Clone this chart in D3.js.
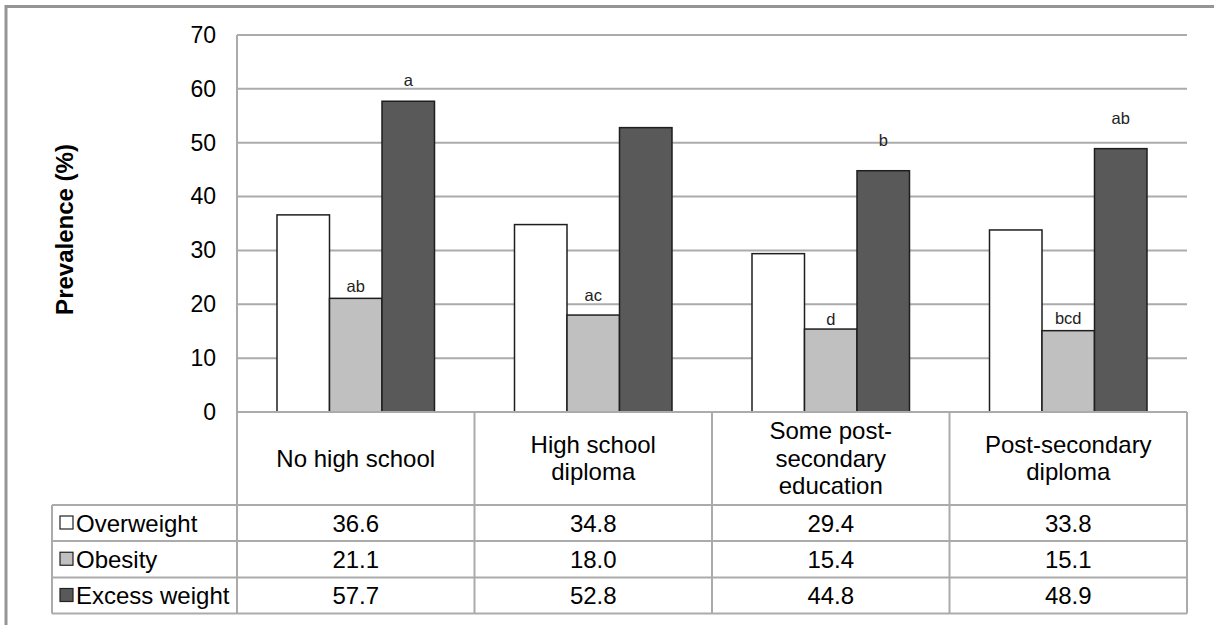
<!DOCTYPE html>
<html>
<head>
<meta charset="utf-8">
<script src="https://cdn.jsdelivr.net/npm/d3@7"></script>
<style>
  html, body { margin: 0; padding: 0; background: #fff; }
  svg { display: block; font-family: "Liberation Sans", Arial, sans-serif; }
</style>
</head>
<body>
<svg id="chart" width="1214" height="625"></svg>
<script>
// Education level categories (header lines in the data table)
const categories = ["No high school", "High school diploma", "Some post-secondary education", "Post-secondary diploma"];
const categoryLines = [["No high school"], ["High school", "diploma"], ["Some post-", "secondary", "education"], ["Post-secondary", "diploma"]];

const seriesNames = ["Overweight", "Obesity", "Excess weight"];
const overweight = [36.6, 34.8, 29.4, 33.8];
const obesity = [21.1, 18.0, 15.4, 15.1];
const excessWeight = [57.7, 52.8, 44.8, 48.9];

// Significance letters above the bars
const obesityLetters = ["ab", "ac", "d", "bcd"];
const excessLetters = ["a", "", "b", "ab"];

const yTicks = [0, 10, 20, 30, 40, 50, 60, 70];

const seriesValues = [overweight, obesity, excessWeight];
const seriesFill = ["#ffffff", "#c0c0c0", "#595959"];

const svg = d3.select("#chart");
const gridColor = "#ababab";

// Frame around the whole figure
svg.append("rect")
  .attr("x", 6).attr("y", 6.5)
  .attr("width", 1240).attr("height", 660)
  .attr("fill", "none").attr("stroke", "#959595").attr("stroke-width", 3);

const plotLeft = 237, plotRight = 1187, plotTop = 35, plotBottom = 412;

const x = d3.scaleBand().domain(categories).range([plotLeft, plotRight]).padding(0);
const xSeries = d3.scaleBand().domain(seriesNames).range([0, x.bandwidth()])
  .paddingInner(0).paddingOuter(0.762);
const y = d3.scaleLinear().domain([0, 70]).range([plotBottom, plotTop]);

// Horizontal gridlines
svg.append("g").selectAll("line").data(yTicks.filter(t => t > 0)).join("line")
  .attr("x1", plotLeft).attr("x2", plotRight)
  .attr("y1", d => y(d)).attr("y2", d => y(d))
  .attr("stroke", gridColor).attr("stroke-width", 2);

// Y axis with labels only
const yAxis = d3.axisLeft(y).tickValues(yTicks).tickSize(0).tickPadding(21).tickFormat(d3.format("d"));
const yg = svg.append("g").attr("transform", `translate(${plotLeft},0)`).call(yAxis);
yg.select(".domain").remove();
yg.selectAll("text").attr("font-size", 23).attr("fill", "#000")
  .attr("font-family", "'Liberation Sans', Arial, sans-serif");

// Bars
const groups = svg.append("g").selectAll("g").data(categories).join("g")
  .attr("transform", d => `translate(${x(d)},0)`);

groups.selectAll("rect")
  .data((c, i) => seriesNames.map((s, k) => ({ s, k, v: seriesValues[k][i] })))
  .join("rect")
  .attr("x", d => xSeries(d.s))
  .attr("y", d => y(d.v))
  .attr("width", xSeries.bandwidth())
  .attr("height", d => y(0) - y(d.v))
  .attr("fill", d => seriesFill[d.k])
  .attr("stroke", "#1e1e1e").attr("stroke-width", 1.5);

// Letters above the obesity and excess-weight bars (pixel lift above bar top)
const obesityLift = [6, 14, 4, 7];
const excessLift = [15, 0, 25, 25];
groups.append("text")
  .attr("x", xSeries("Obesity") + xSeries.bandwidth() / 2)
  .attr("y", (c, i) => y(obesity[i]) - obesityLift[i])
  .attr("text-anchor", "middle").attr("font-size", 16.5).attr("fill", "#222")
  .text((c, i) => obesityLetters[i]);
groups.append("text")
  .attr("x", xSeries("Excess weight") + xSeries.bandwidth() / 2)
  .attr("y", (c, i) => y(excessWeight[i]) - excessLift[i])
  .attr("text-anchor", "middle").attr("font-size", 16.5).attr("fill", "#222")
  .text((c, i) => excessLetters[i]);

// Data table below the plot
const headerBottom = 505;
const rowH = [505, 541, 577.5, 613.5];
const legendLeft = 52;
const tg = svg.append("g");

// vertical axis line continued down through the table
tg.append("line").attr("x1", plotLeft).attr("x2", plotLeft)
  .attr("y1", plotTop).attr("y2", rowH[3]).attr("stroke", gridColor).attr("stroke-width", 2);
// column separators
tg.selectAll("line.col").data(categories).join("line").attr("class", "col")
  .attr("x1", d => x(d) + x.bandwidth()).attr("x2", d => x(d) + x.bandwidth())
  .attr("y1", plotBottom).attr("y2", rowH[3])
  .attr("stroke", gridColor).attr("stroke-width", 2);
// baseline / top of header
tg.append("line").attr("x1", plotLeft).attr("x2", plotRight)
  .attr("y1", plotBottom).attr("y2", plotBottom).attr("stroke", gridColor).attr("stroke-width", 2);
// row lines
tg.selectAll("line.row").data(rowH).join("line").attr("class", "row")
  .attr("x1", legendLeft).attr("x2", plotRight)
  .attr("y1", d => d).attr("y2", d => d)
  .attr("stroke", gridColor).attr("stroke-width", 2);
tg.append("line").attr("x1", legendLeft).attr("x2", legendLeft)
  .attr("y1", rowH[0]).attr("y2", rowH[3]).attr("stroke", gridColor).attr("stroke-width", 2);

// header labels
const headerMid = (plotBottom + headerBottom) / 2;
const lineGap = 27.5;
categories.forEach((c, i) => {
  const lines = categoryLines[i];
  lines.forEach((t, j) => {
    tg.append("text")
      .attr("x", x(c) + x.bandwidth() / 2)
      .attr("y", headerMid + 8 + (j - (lines.length - 1) / 2) * lineGap)
      .attr("text-anchor", "middle").attr("font-size", 24).attr("fill", "#000")
      .text(t);
  });
});

// value rows with legend keys
seriesNames.forEach((s, k) => {
  const mid = (rowH[k] + rowH[k + 1]) / 2;
  tg.append("rect").attr("x", 60).attr("y", mid - 7).attr("width", 13).attr("height", 13)
    .attr("fill", seriesFill[k]).attr("stroke", "#222").attr("stroke-width", 1.2);
  tg.append("text").attr("x", 76).attr("y", mid + 8.5)
    .attr("font-size", 24).attr("fill", "#000").text(s);
  categories.forEach((c, i) => {
    tg.append("text")
      .attr("x", x(c) + x.bandwidth() / 2).attr("y", mid + 8.5)
      .attr("text-anchor", "middle").attr("font-size", 24).attr("fill", "#000")
      .text(d3.format(".1f")(seriesValues[k][i]));
  });
});

// Y-axis title
svg.append("text")
  .attr("transform", `translate(73,${(plotTop + plotBottom) / 2 + 6}) rotate(-90)`)
  .attr("text-anchor", "middle").attr("font-size", 24).attr("font-weight", "bold").attr("fill", "#000")
  .text("Prevalence (%)");
</script>
</body>
</html>
